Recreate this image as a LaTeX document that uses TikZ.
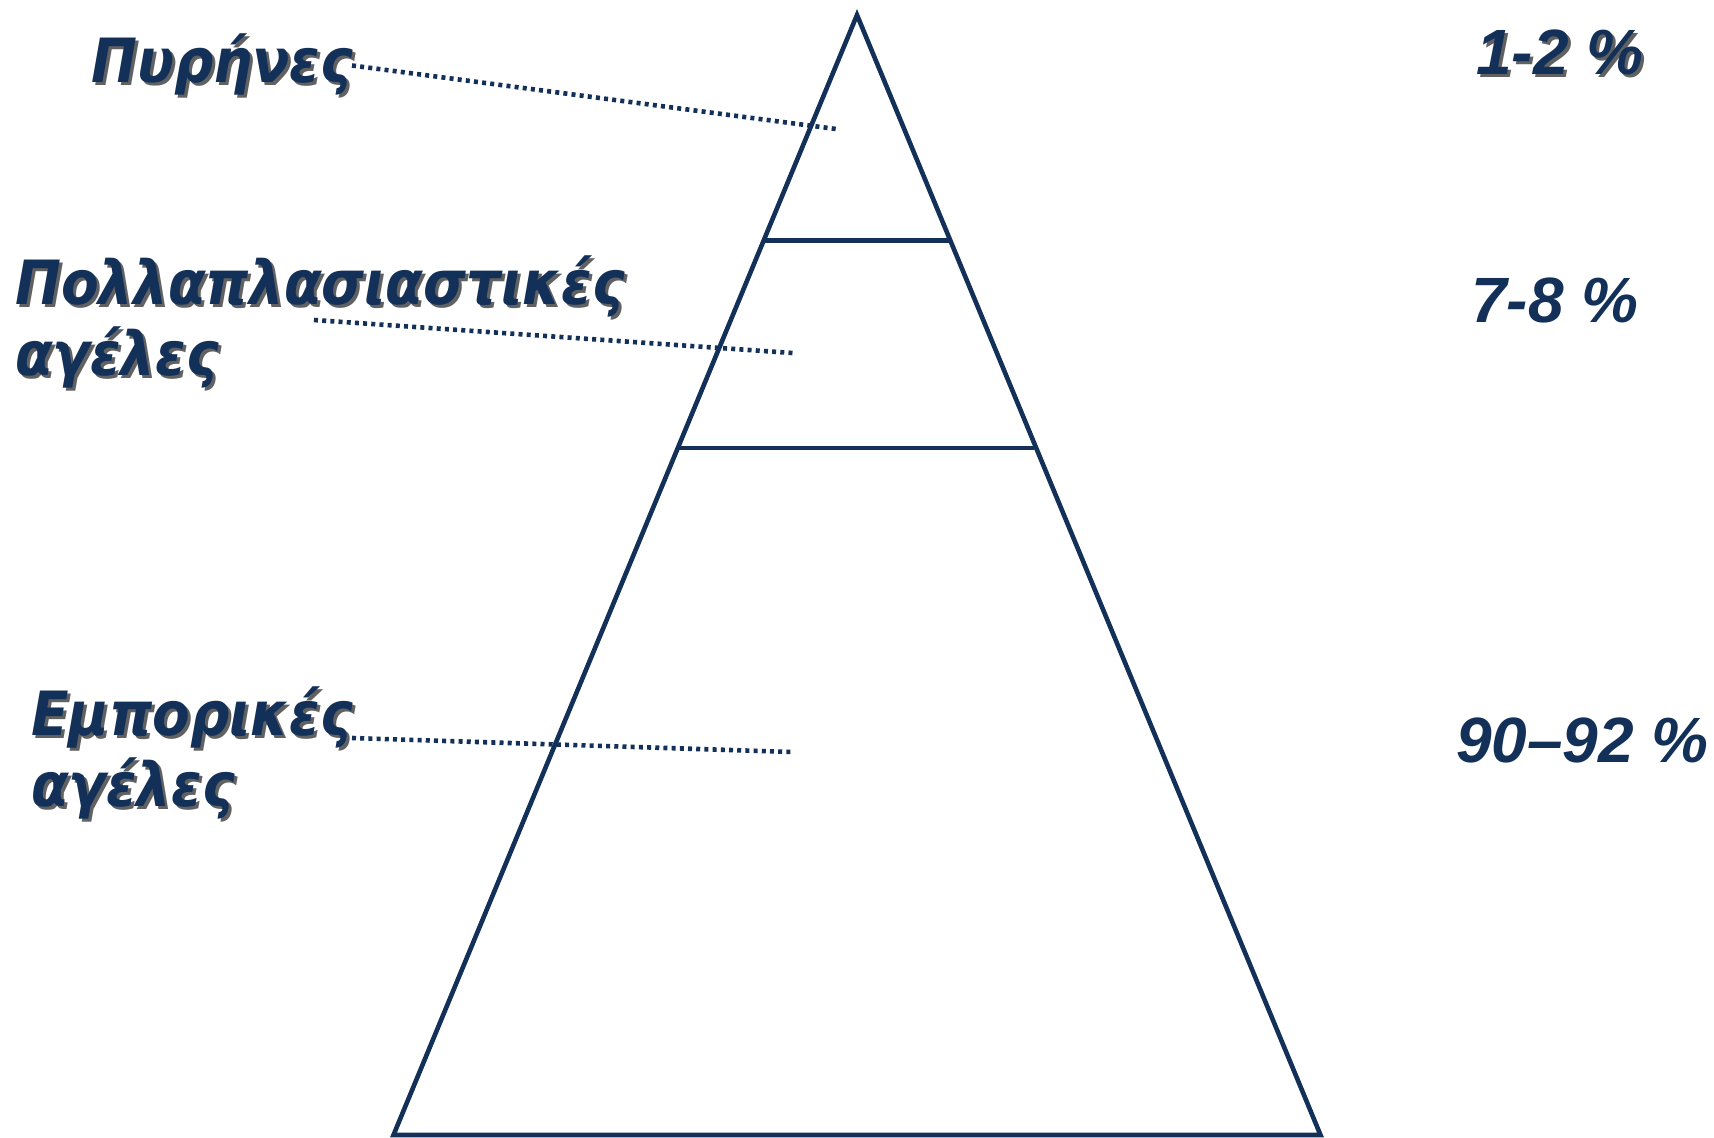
\documentclass[tikz,border=0pt]{standalone}
\usepackage{fontspec}
\newfontfamily\grfont{DejaVu Sans Condensed}[BoldItalicFont={* Bold Oblique}]
\newfontfamily\pcfont{Liberation Sans}
\definecolor{navy}{HTML}{123058}
\definecolor{shadowc}{HTML}{1E1E1E}
\tikzset{
  pyr/.style={draw=navy, line width=4.6pt},
  dotline/.style={draw=navy, line width=4.6pt, dash pattern=on 4pt off 4.2pt},
  grlabel/.style={inner sep=0pt, anchor=base west, text=navy, font=\grfont\bfseries\itshape\fontsize{61}{71}\selectfont},
  grshadow/.style={inner sep=0pt, anchor=base west, text=shadowc, opacity=0.7, font=\grfont\bfseries\itshape\fontsize{61}{71}\selectfont},
  pclabel/.style={inner sep=0pt, anchor=base west, text=navy, font=\pcfont\bfseries\itshape\fontsize{64}{70}\selectfont},
  pcshadow/.style={inner sep=0pt, anchor=base west, text=shadowc, opacity=0.7, font=\pcfont\bfseries\itshape\fontsize{64}{70}\selectfont},
}
\begin{document}
\begin{tikzpicture}[x=1pt, y=-1pt]
\useasboundingbox (0,0) rectangle (1714,1138);
% pyramid
\coordinate (apex) at (857,15);
\coordinate (bl) at (393.5,1135);
\coordinate (br) at (1320.5,1135);
\coordinate (l1) at (763.5,240.5);
\coordinate (r1) at (951,240.5);
\coordinate (l2) at (678,448);
\coordinate (r2) at (1034,448);
\draw[pyr, line join=miter] (apex) -- (bl) -- (br) -- cycle;
\draw[pyr] (l1) -- (r1);
\draw[pyr] (l2) -- (r2);
% shadows
\node[grshadow] at (94,85) {Πυρήνες};
\node[grshadow] at (18,307) {Πολλαπλασιαστικές};
\node[grshadow] at (18,378) {αγέλες};
\node[grshadow] at (34,738) {Εμπορικές};
\node[grshadow] at (34,809) {αγέλες};
\node[pcshadow] at (1479,77) {1-2 \%};
% labels
\node[grlabel] (pyr) at (91,82) {Πυρήνες};
\node[grlabel] (pol) at (15,304) {Πολλαπλασιαστικές};
\node[grlabel] (pol2) at (15,375) {αγέλες};
\node[grlabel] (emp) at (31,735) {Εμπορικές};
\node[grlabel] (emp2) at (31,806) {αγέλες};
\node[pclabel] (p1) at (1476,74) {1-2 \%};
\node[pclabel] (p2) at (1471,322) {7-8 \%};
\node[pclabel] (p3) at (1456,762) {90–92 \%};
% dotted leaders
\coordinate (d1s) at (352,65.5);
\coordinate (d1e) at (836,129);
\coordinate (d2s) at (314,320);
\coordinate (d2e) at (792.5,353);
\coordinate (d3s) at (352,738);
\coordinate (d3e) at (792.5,752);
\draw[dotline] (d1s) -- (d1e);
\draw[dotline] (d2s) -- (d2e);
\draw[dotline] (d3s) -- (d3e);
\end{tikzpicture}
\end{document}
